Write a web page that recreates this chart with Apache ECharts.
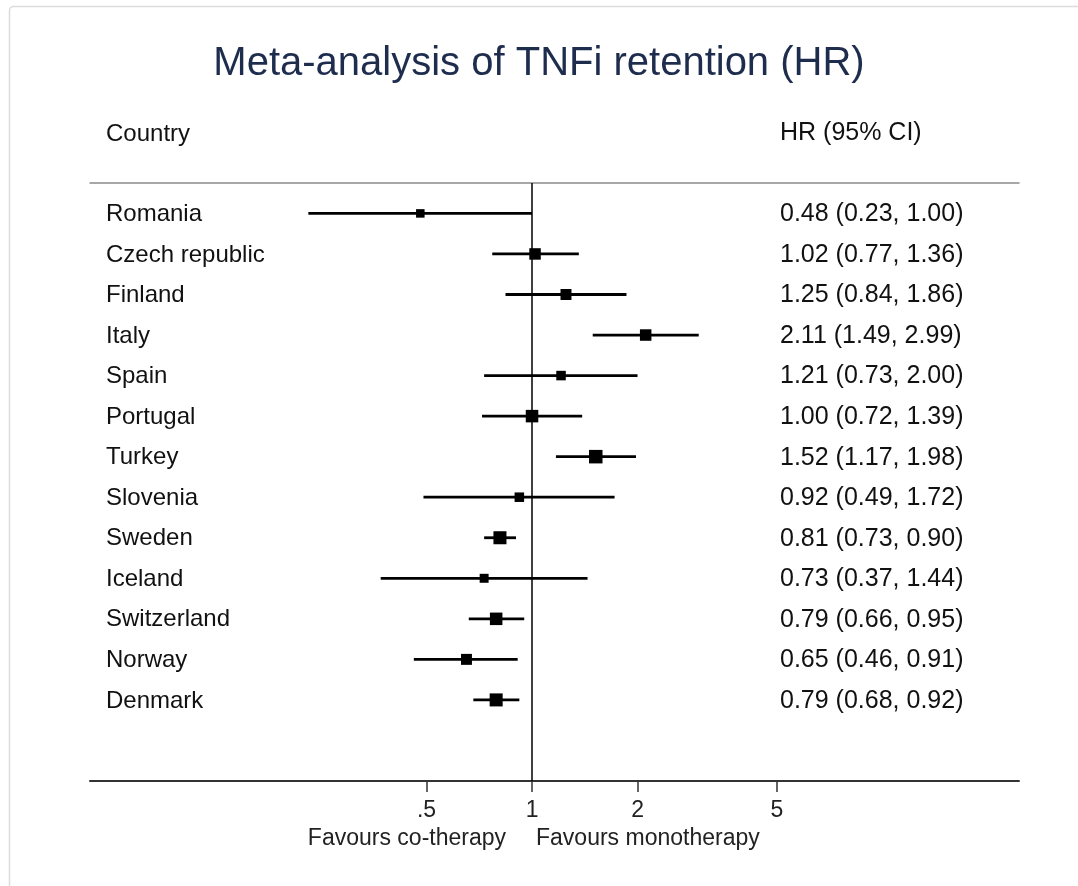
<!DOCTYPE html>
<html><head><meta charset="utf-8">
<script src="https://cdn.jsdelivr.net/npm/echarts@6/dist/echarts.min.js"></script>
<style>html,body{margin:0;padding:0;background:#fff}#chart{width:1078px;height:886px}</style>
</head><body><div id="chart"></div>
<script>
const countries = ['Romania','Czech republic','Finland','Italy','Spain','Portugal','Turkey','Slovenia','Sweden','Iceland','Switzerland','Norway','Denmark'];
const hr     = [0.48,1.02,1.25,2.11,1.21,1.00,1.52,0.92,0.81,0.73,0.79,0.65,0.79];
const ciLow  = [0.23,0.77,0.84,1.49,0.73,0.72,1.17,0.49,0.73,0.37,0.66,0.46,0.68];
const ciHigh = [1.00,1.36,1.86,2.99,2.00,1.39,1.98,1.72,0.90,1.44,0.95,0.91,0.92];
const weights = [3.9,7.9,7.1,7.9,5.1,9.6,11.4,5.1,10.5,4.4,9.6,7.1,10.5];
const tickValues = [0.5,1,2,5];
const tickLabels = ['.5','1','2','5'];
const nullValue = 1;

const FONT = '"Liberation Sans", Arial, sans-serif';
const L2 = v => Math.log2(v);
const fmt = v => v.toFixed(2);

const data = countries.map((c,i)=>[i, L2(hr[i]), L2(ciLow[i]), L2(ciHigh[i]), weights[i], c,
  fmt(hr[i]) + ' (' + fmt(ciLow[i]) + ', ' + fmt(ciHigh[i]) + ')']);

const chart = echarts.init(document.getElementById('chart'), null, {renderer:'canvas'});
const xMin = -4.19, xMax = 4.616;
chart.setOption({
  animation:false,
  backgroundColor:'#fff',
  title:{text:'Meta-analysis of TNFi retention (HR)', left:'center', top:39,
    textStyle:{fontFamily:FONT, fontSize:40, fontWeight:'normal', color:'#1e2d4d'}},
  grid:{left:90, right:59, top:183, bottom:105},
  xAxis:[{
    type:'value', min:xMin, max:xMax, position:'bottom',
    splitLine:{show:false},
    axisLine:{show:true, onZero:false, lineStyle:{color:'#333', width:2}},
    axisTick:{show:true, length:11, lineStyle:{color:'#333', width:1.5}, customValues: tickValues.map(L2)},
    axisLabel:{show:true, margin:18, fontFamily:FONT, fontSize:23, color:'#222',
      customValues: tickValues.map(L2),
      formatter: v => { const k = tickValues.findIndex(t => Math.abs(L2(t)-v) < 1e-6); return k>=0 ? tickLabels[k] : ''; }}
  },{
    type:'value', min:xMin, max:xMax, position:'top',
    splitLine:{show:false},
    axisLine:{show:true, onZero:false, lineStyle:{color:'#8c8c8c', width:1.5}},
    axisTick:{show:false}, axisLabel:{show:false}
  }],
  yAxis:{type:'value', min:-0.75, max:14, inverse:true, show:false},
  graphic:[
    {type:'rect', shape:{x:9.5, y:6.5, width:1100, height:900, r:4}, style:{fill:'none', stroke:'#dcdcdc', lineWidth:1.5}, silent:true},
    {type:'text', left:106, top:122, style:{text:'Country', fontFamily:FONT, fontSize:24, fill:'#111'}},
    {type:'text', left:780, top:121, style:{text:'HR (95% CI)', fontFamily:FONT, fontSize:25, fill:'#111'}},
    {type:'text', right:1078-506, top:827, style:{text:'Favours co-therapy', fontFamily:FONT, fontSize:23, fill:'#222', align:'right'}},
    {type:'text', left:536, top:827, style:{text:'Favours monotherapy', fontFamily:FONT, fontSize:23, fill:'#222'}}
  ],
  series:[{
    type:'custom',
    xAxisIndex:0,
    data:data,
    encode:{x:[1,2,3], y:0},
    clip:false,
    renderItem:(params, api)=>{
      const i = api.value(0);
      const c = api.coord([api.value(1), i]);
      const lo = api.coord([api.value(2), i]);
      const hi = api.coord([api.value(3), i]);
      const sz = 1.5 + 3.556*Math.sqrt(api.value(4));
      const cs = params.coordSys;
      return {type:'group', children:[
        {type:'line', shape:{x1:lo[0], y1:lo[1], x2:hi[0], y2:hi[1]}, style:{stroke:'#000', lineWidth:2.8}},
        {type:'rect', shape:{x:c[0]-sz/2, y:c[1]-sz/2, width:sz, height:sz}, style:{fill:'#000'}},
        {type:'text', style:{x:cs.x+16, y:c[1]+1, text:api.value(5), fontFamily:FONT, fontSize:24, fill:'#111', verticalAlign:'middle', align:'left'}},
        {type:'text', style:{x:cs.x+cs.width-239, y:c[1]+1, text:api.value(6), fontFamily:FONT, fontSize:25, fill:'#111', verticalAlign:'middle', align:'left'}}
      ]};
    },
    markLine:{symbol:'none', silent:true, label:{show:false}, animation:false,
      lineStyle:{color:'#000', width:1.5, type:'solid'},
      data:[{xAxis:L2(nullValue)}]}
  }]
});
</script></body></html>
